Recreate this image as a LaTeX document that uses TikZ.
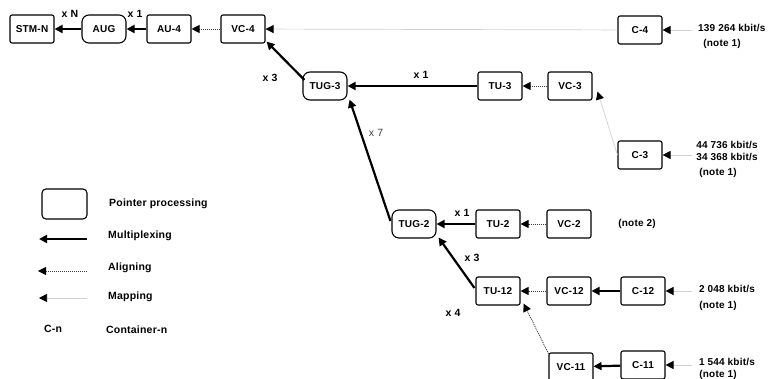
\documentclass[tikz,border=0pt]{standalone}
\usepackage{fontspec}
\setmainfont{Liberation Sans}[LetterSpace=2]
\usetikzlibrary{arrows.meta,calc}
\tikzset{
  box/.style={draw, line width=1.1pt, rounded corners=2pt, minimum width=44pt, minimum height=28pt, inner sep=0pt, font=\bfseries\fontsize{10}{11}\selectfont},
  rbox/.style={box, rounded corners=7pt},
  lbl/.style={font=\bfseries\fontsize{10.5}{12}\selectfont, inner sep=0pt},
  rate/.style={font=\bfseries\fontsize{10}{12}\selectfont, inner sep=0pt, align=center},
  tip/.style={-{Triangle[length=8pt,width=8pt,color=black]}},
  mux/.style={tip, line width=2.2pt},
  alignarr/.style={tip, line width=0.9pt, gray!50!black, dash pattern=on 1pt off 1pt},
  mapp/.style={tip, line width=0.7pt, black!18},
}
\begin{document}
\begin{tikzpicture}[x=1pt,y=-1pt]
\useasboundingbox (0,0) rectangle (777,379);
% top row
\node[box]  (STM) at (32,29) {STM-N};
\node[rbox] (AUG) at (104,29) {AUG};
\node[box]  (AU4) at (169,29) {AU-4};
\node[box]  (VC4) at (243,29) {VC-4};
\node[box]  (C4)  at (640,30) {C-4};
\node[rate,anchor=west] (r4) at (698,28) {139 264 kbit/s};
\node[rate] (n4) at (722,44) {(note 1)};
\coordinate (r4a) at (692,30);
% TUG-3 row
\node[rbox] (TUG3) at (325,86) {TUG-3};
\node[box]  (TU3)  at (500,86) {TU-3};
\node[box]  (VC3)  at (570,86) {VC-3};
\node[box]  (C3)   at (640,155) {C-3};
\node[rate] (r3) at (727,151) {44 736 kbit/s\\34 368 kbit/s};
\node[rate] (n3) at (718,173) {(note 1)};
\coordinate (r3a) at (692,155);
% TUG-2 row
\node[rbox] (TUG2) at (414,224) {TUG-2};
\node[box]  (TU2)  at (498,224) {TU-2};
\node[box]  (VC2)  at (569,224) {VC-2};
\node[rate] (n2) at (637,224) {(note 2)};
% TU-12 row
\node[box] (TU12) at (498,291) {TU-12};
\node[box] (VC12) at (569,291) {VC-12};
\node[box] (C12)  at (643,291) {C-12};
\node[rate] (r12) at (727,289) {2 048 kbit/s};
\node[rate] (n12) at (718,306) {(note 1)};
\coordinate (r12a) at (692,291);
% VC-11 row
\node[box] (VC11) at (571,367) {VC-11};
\node[box] (C11)  at (643,365) {C-11};
\node[rate] (r11) at (727,362) {1 544 kbit/s};
\node[rate] (n11) at (718,375) {(note 1)};
\coordinate (r11a) at (692,365);
% connectors
\draw[mux] (AUG) -- (STM);
\draw[mux] (AU4) -- (AUG);
\draw[alignarr] (VC4) -- (AU4);
\draw[mapp] (C4) -- (VC4);
\draw[mapp] (r4a) -- (C4);
\draw[mux] ($(TUG3.west)+(2,-6)$) -- ($(VC4.south east)+(1,-2)$);
\draw[mux] (TU3) -- (TUG3);
\draw[alignarr] (VC3) -- (TU3);
\draw[mapp] (C3.west) -- ($(VC3.south east)+(5,-9)$);
\draw[mapp] (r3a) -- (C3);
\draw[mux] ($(TUG2.west)+(-1,-3)$) -- ($(TUG3.south east)+(2,-1)$);
\draw[mux] (TU2) -- (TUG2);
\draw[alignarr] (VC2) -- (TU2);
\draw[mux] ($(TU12.west)+(-1,-3)$) -- ($(TUG2.south east)+(2,-1)$);
\draw[alignarr] (VC12) -- (TU12);
\draw[mux] (C12) -- (VC12);
\draw[mapp] (r12a) -- (C12);
\draw[alignarr] ($(VC11.north west)+(1,3)$) -- ($(TU12.south east)+(3,-2)$);
\draw[mux] (C11) -- (VC11);
\draw[mapp] (r11a) -- (C11);
% multiplicity labels
\node[lbl] (xN) at (70,14) {x N};
\node[lbl] (x1a) at (135,14) {x 1};
\node[lbl] (x3a) at (270,78) {x 3};
\node[lbl] (x1b) at (421,75) {x 1};
\node[font=\fontsize{10.5}{12}\selectfont, inner sep=0pt, text=black!75] (x7) at (376,133) {x 7};
\node[lbl] (x1c) at (462,213) {x 1};
\node[lbl] (x3b) at (472,258) {x 3};
\node[lbl] (x4) at (453,313) {x 4};
% legend
\node[box, rounded corners=4pt, minimum width=45pt, minimum height=30pt] (lgbox) at (64.5,204) {};
\node[lbl,anchor=west] (lgt1) at (109,204) {Pointer processing};
\coordinate (m1) at (87,239); \coordinate (m2) at (39,239);
\draw[mux] (m1) -- (m2);
\node[lbl,anchor=west] (lgt2) at (108,236) {Multiplexing};
\coordinate (a1) at (87,271); \coordinate (a2) at (38,271);
\draw[alignarr] (a1) -- (a2);
\node[lbl,anchor=west] (lgt3) at (108,268) {Aligning};
\coordinate (p1) at (87,298); \coordinate (p2) at (39,298);
\draw[mapp] (p1) -- (p2);
\node[lbl,anchor=west] (lgt4) at (108,297) {Mapping};
\node[lbl] (cn) at (53,329) {C-n};
\node[lbl,anchor=west] (lgt5) at (106,330) {Container-n};
\end{tikzpicture}
\end{document}
